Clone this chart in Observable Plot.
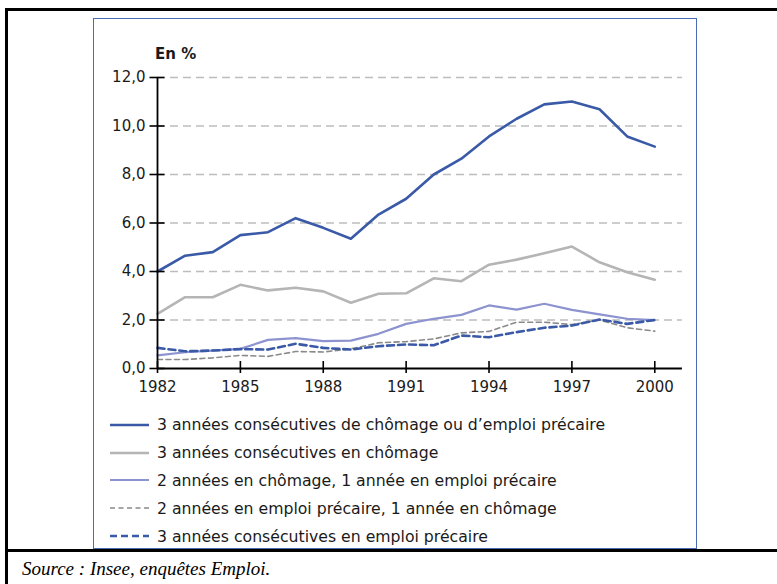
<!DOCTYPE html>
<html><head><meta charset="utf-8">
<script src="https://cdn.jsdelivr.net/npm/d3@7"></script>
<script src="https://cdn.jsdelivr.net/npm/@observablehq/plot@0.6"></script>
<style>
body{margin:0;background:#fff;font-family:"DejaVu Sans",sans-serif;color:#1a1a1a;}
#page{position:relative;width:777px;height:584px;overflow:hidden;background:#fff;}
.bar{position:absolute;background:#000;}
#bluebox{position:absolute;left:93px;top:18px;width:602px;height:529px;border:1.6px solid #4a6cb5;}
#chart{position:absolute;left:0;top:0;}
#unit{position:absolute;left:155px;top:45px;font-size:15px;font-weight:bold;color:#1a1a1a;}
#legend{position:absolute;left:110px;top:411px;}
.row{height:27.8px;display:flex;align-items:center;font-size:15.7px;white-space:nowrap;}
.row svg{margin-right:8px;}
#source{position:absolute;left:22px;top:558px;font-family:"Liberation Serif","Times New Roman",serif;font-style:italic;font-size:19px;color:#000;}
</style></head>
<body>
<div id="page">
  <div class="bar" style="left:5px;top:8px;width:3px;height:600px"></div>
  <div class="bar" style="left:5px;top:8px;width:800px;height:3px"></div>
  <div class="bar" style="left:5px;top:549px;width:800px;height:3px"></div>
  <div id="bluebox"></div>
  <div id="chart"></div>
  <div id="unit">En %</div>
  <div id="legend"></div>
  <div id="source">Source : Insee, enquêtes Emploi.</div>
</div>
<script>
const years = [1982,1983,1984,1985,1986,1987,1988,1989,1990,1991,1992,1993,1994,1995,1996,1997,1998,1999,2000];
const consecChomageOuPrecaire = [4.0,4.65,4.8,5.5,5.62,6.2,5.8,5.35,6.35,7.0,8.0,8.65,9.57,10.3,10.89,11.01,10.69,9.57,9.15];
const consecChomage = [2.25,2.94,2.94,3.45,3.22,3.33,3.18,2.71,3.08,3.1,3.72,3.6,4.28,4.49,4.75,5.03,4.38,3.97,3.66];
const deuxChomageUnPrecaire = [0.54,0.67,0.74,0.81,1.18,1.25,1.13,1.15,1.43,1.84,2.05,2.21,2.6,2.43,2.67,2.42,2.23,2.05,2.0];
const deuxPrecaireUnChomage = [0.37,0.37,0.44,0.54,0.5,0.7,0.68,0.81,1.06,1.11,1.22,1.47,1.53,1.91,1.91,1.81,2.0,1.68,1.54];
const consecPrecaire = [0.85,0.71,0.74,0.8,0.78,1.02,0.85,0.78,0.92,0.99,0.96,1.36,1.29,1.5,1.68,1.77,2.02,1.84,2.0];
const seriesNames = [
  "3 années consécutives de chômage ou d’emploi précaire",
  "3 années consécutives en chômage",
  "2 années en chômage, 1 année en emploi précaire",
  "2 années en emploi précaire, 1 année en chômage",
  "3 années consécutives en emploi précaire"
];
const yTicks = [0,2,4,6,8,10,12];
const xTicks = [1982,1985,1988,1991,1994,1997,2000];

const seriesValues = [consecChomageOuPrecaire, consecChomage, deuxChomageUnPrecaire, deuxPrecaireUnChomage, consecPrecaire];
const styles = [
  {stroke:"#3a5aa8", strokeWidth:2.6},
  {stroke:"#b5b5b5", strokeWidth:2.6},
  {stroke:"#8d93cf", strokeWidth:2.2},
  {stroke:"#8a8a8a", strokeWidth:1.6, strokeDasharray:"5,3.5"},
  {stroke:"#3a5aa8", strokeWidth:2.6, strokeDasharray:"7,4"}
];
const tables = seriesValues.map(vals => years.map((y,i) => ({year:y, value:vals[i]})));
const fmt = d => d.toFixed(1).replace(".", ",");
const drawOrder = [1,2,3,4,0];

const chart = Plot.plot({
  width: 700, height: 400,
  marginLeft: 157, marginRight: 18.1, marginTop: 77, marginBottom: 32,
  style: {fontFamily: '"DejaVu Sans", sans-serif', fontSize: "15px", color: "#1a1a1a", background: "transparent"},
  x: {domain: [1982, 2001], label: null},
  y: {domain: [0, 12], label: null},
  marks: [
    Plot.gridY(yTicks.filter(d => d > 0), {stroke: "#bdbdbd", strokeOpacity: 1, strokeWidth: 1.3, strokeDasharray: "8,5"}),
    ...drawOrder.map(k => Plot.line(tables[k], {x: "year", y: "value", ...styles[k], strokeLinejoin: "round"})),
    Plot.ruleX([1982], {stroke: "#000", strokeWidth: 1.8}),
    Plot.ruleY([0], {stroke: "#000", strokeWidth: 1.8}),
    Plot.axisY(yTicks, {tickSize: 15, dx: 7.5, tickFormat: () => "", label: null, stroke: "#000", strokeWidth: 1.6}),
    Plot.axisY(yTicks, {tickSize: 0, tickPadding: 12, tickFormat: fmt, label: null, fill: "#1a1a1a"}),
    Plot.axisX(xTicks, {tickSize: 12, dy: -7, tickFormat: () => "", label: null, stroke: "#000", strokeWidth: 1.6}),
    Plot.axisX(xTicks, {tickSize: 0, tickPadding: 13, tickFormat: d => String(d), label: null, fill: "#1a1a1a"})
  ]
});
document.getElementById("chart").appendChild(chart);

const legend = document.getElementById("legend");
seriesNames.forEach((name, k) => {
  const st = styles[k];
  const row = document.createElement("div");
  row.className = "row";
  row.innerHTML = `<svg width="39" height="6"><line x1="0" y1="3" x2="39" y2="3" stroke="${st.stroke}" stroke-width="${st.strokeWidth}" ${st.strokeDasharray ? `stroke-dasharray="${st.strokeDasharray}"` : ""}/></svg><span>${name}</span>`;
  legend.appendChild(row);
});
</script>
</body></html>
